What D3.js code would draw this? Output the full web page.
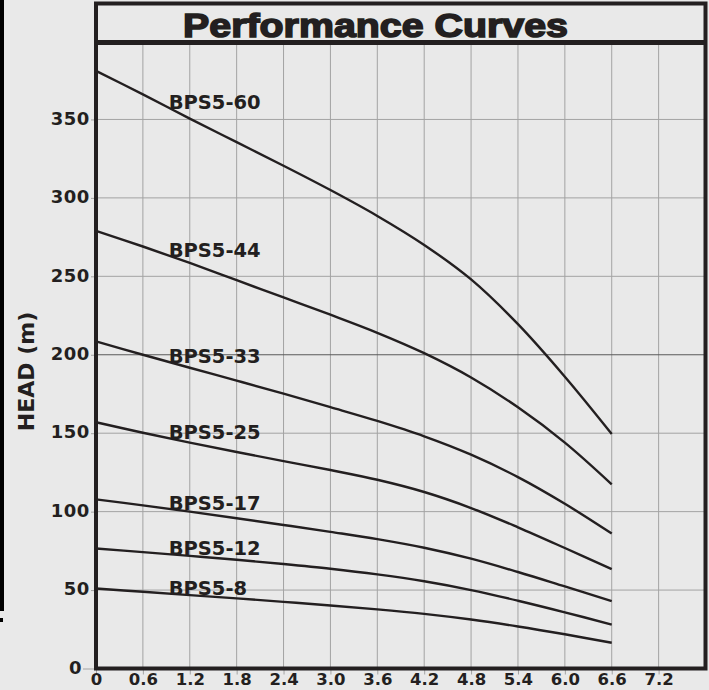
<!DOCTYPE html>
<html lang="en">
<head>
    <meta charset="UTF-8">
    <title>Performance Curves</title>
    <script src="https://d3js.org/d3.v7.min.js"></script>
    <style>
        body {
            margin: 0;
            background: #e9e9e9;
        }
        svg {
            display: block;
        }
    </style>
</head>
<body>
    <svg id="chart" width="709" height="690"></svg>

    <script>
        // flow rate points (x) and head values (m)
        const flow = [0, 0.6, 1.2, 1.8, 2.4, 3.0, 3.6, 4.2, 4.8, 5.4, 6.0, 6.6];
        const bps5_60 = [381, 366, 350.5, 335.5, 320.5, 305, 288.5, 270, 248, 219.5, 186, 149.5];
        const bps5_44 = [279, 269, 258.5, 247.5, 236.5, 225.5, 214, 201, 185.5, 166.5, 144, 117.4];
        const bps5_33 = [208.5, 200, 191.7, 183.5, 175.2, 166.6, 157.8, 148, 136.3, 122, 105, 86];
        const bps5_25 = [157, 150.3, 144, 138, 132.2, 126.5, 120.3, 112.5, 102.3, 90, 76.8, 63.3];
        const bps5_17 = [107.8, 104, 100, 95.8, 91.5, 87.1, 82.5, 77, 70, 61.5, 52.3, 43];
        const bps5_12 = [76.5, 74.2, 71.8, 69.3, 66.6, 63.6, 60, 55.6, 50, 43.2, 35.8, 28];
        const bps5_8 = [51, 48.9, 46.8, 44.7, 42.5, 40.2, 37.7, 34.8, 31.2, 26.8, 21.8, 16.4];

        const seriesNames = ['BPS5-60', 'BPS5-44', 'BPS5-33', 'BPS5-25', 'BPS5-17', 'BPS5-12', 'BPS5-8'];
        const seriesValues = [bps5_60, bps5_44, bps5_33, bps5_25, bps5_17, bps5_12, bps5_8];

        const xTicks = [0, 0.6, 1.2, 1.8, 2.4, 3.0, 3.6, 4.2, 4.8, 5.4, 6.0, 6.6, 7.2];
        const yTicks = [0, 50, 100, 150, 200, 250, 300, 350];

        const title = 'Performance Curves';
        const yTitle = 'HEAD (m)';

        const ink = '#231f20';
        const gridColor = '#a3a3a3';
        const labelFont = '"DejaVu Sans", Verdana, sans-serif';

        const svg = d3.select('#chart');

        const x = d3.scaleLinear().domain([0, 7.8]).range([96, 705.5]);
        const y = d3.scaleLinear().domain([0, 400]).range([668.5, 41]);

        svg.append('rect')
            .attr('width', 709)
            .attr('height', 690)
            .attr('fill', '#e9e9e9');

        // black strip on the left edge of the scan
        svg.append('rect')
            .attr('x', 0).attr('y', 0)
            .attr('width', 4).attr('height', 611)
            .attr('fill', '#000');
        svg.append('rect')
            .attr('x', 0).attr('y', 618)
            .attr('width', 3).attr('height', 4)
            .attr('fill', '#000');

        // grid
        const grid = svg.append('g');
        grid.selectAll('.vgrid')
            .data(xTicks.filter(d => d > 0))
            .join('line')
            .attr('x1', d => x(d)).attr('x2', d => x(d))
            .attr('y1', 45).attr('y2', y(0))
            .attr('stroke', gridColor)
            .attr('stroke-width', 1);
        grid.selectAll('.hgrid')
            .data(yTicks.filter(d => d > 0))
            .join('line')
            .attr('x1', x(0)).attr('x2', x.range()[1])
            .attr('y1', d => y(d)).attr('y2', d => y(d))
            .attr('stroke', d => d === 200 ? '#5a5a5a' : gridColor)
            .attr('stroke-width', 1);

        // axes
        const xAxis = svg.append('g')
            .attr('transform', `translate(0,${y(0)})`)
            .call(d3.axisBottom(x).tickValues(xTicks).tickSize(6).tickPadding(0));
        xAxis.selectAll('text').text(d => d === 0 ? '0' : d3.format('.1f')(d));

        const yAxis = svg.append('g')
            .attr('transform', `translate(${x(0)},0)`)
            .call(d3.axisLeft(y).tickValues(yTicks).tickSize(5).tickPadding(1));

        [xAxis, yAxis].forEach(ax => {
            ax.select('.domain').remove();
            ax.selectAll('line').attr('stroke', gridColor);
            ax.selectAll('text')
                .attr('fill', ink)
                .attr('font-family', labelFont)
                .attr('font-weight', 'bold');
        });
        xAxis.selectAll('text')
            .attr('font-size', 16.5)
            .attr('dy', '0.66em');
        yAxis.selectAll('text')
            .attr('font-size', 18)
            .attr('letter-spacing', 0.6)
            .attr('dy', '0.26em');
        // zero tick on the y axis is longer
        yAxis.selectAll('.tick').filter(d => d === 0)
            .call(t => t.select('line').attr('x2', -13))
            .call(t => t.select('text').attr('x', -14));

        // curves
        const line = d3.line()
            .x(d => x(d[0]))
            .y(d => y(d[1]))
            .curve(d3.curveCatmullRom.alpha(0.5));

        svg.append('g')
            .selectAll('path')
            .data(seriesValues)
            .join('path')
            .attr('d', vals => line(vals.map((v, i) => [flow[i], v])))
            .attr('fill', 'none')
            .attr('stroke', ink)
            .attr('stroke-width', 2.4);

        // curve labels sit on the curve near x = 0.93
        const labelFlow = 0.93;
        svg.append('g')
            .selectAll('text')
            .data(seriesNames)
            .join('text')
            .attr('x', x(labelFlow))
            .attr('y', (d, i) => {
                const vals = seriesValues[i];
                const v = vals[1] + (vals[2] - vals[1]) * (labelFlow - flow[1]) / (flow[2] - flow[1]);
                return y(v) + 1;
            })
            .attr('fill', ink)
            .attr('font-family', labelFont)
            .attr('font-weight', 'bold')
            .attr('font-size', 19.5)
            .text(d => d);

        // frame around the title and the plot
        svg.append('rect')
            .attr('x', x(0)).attr('y', 3.5)
            .attr('width', 705.5 - x(0))
            .attr('height', y(0) - 3.5)
            .attr('fill', 'none')
            .attr('stroke', ink)
            .attr('stroke-width', 4);
        svg.append('line')
            .attr('x1', x(0)).attr('x2', 705.5)
            .attr('y1', 42.5).attr('y2', 42.5)
            .attr('stroke', ink)
            .attr('stroke-width', 5);

        svg.append('text')
            .attr('x', 375.5)
            .attr('y', 36.5)
            .attr('text-anchor', 'middle')
            .attr('textLength', 385)
            .attr('lengthAdjust', 'spacingAndGlyphs')
            .attr('font-family', '"Liberation Sans", Arial, sans-serif')
            .attr('font-weight', 'bold')
            .attr('font-size', 34)
            .attr('fill', ink)
            .attr('stroke', ink)
            .attr('stroke-width', 1.6)
            .text(title);

        svg.append('text')
            .attr('transform', 'translate(26,371.5) rotate(-90)')
            .attr('text-anchor', 'middle')
            .attr('dominant-baseline', 'central')
            .attr('font-family', labelFont)
            .attr('font-weight', 'bold')
            .attr('font-size', 22)
            .attr('fill', ink)
            .text(yTitle);
    </script>
</body>
</html>
